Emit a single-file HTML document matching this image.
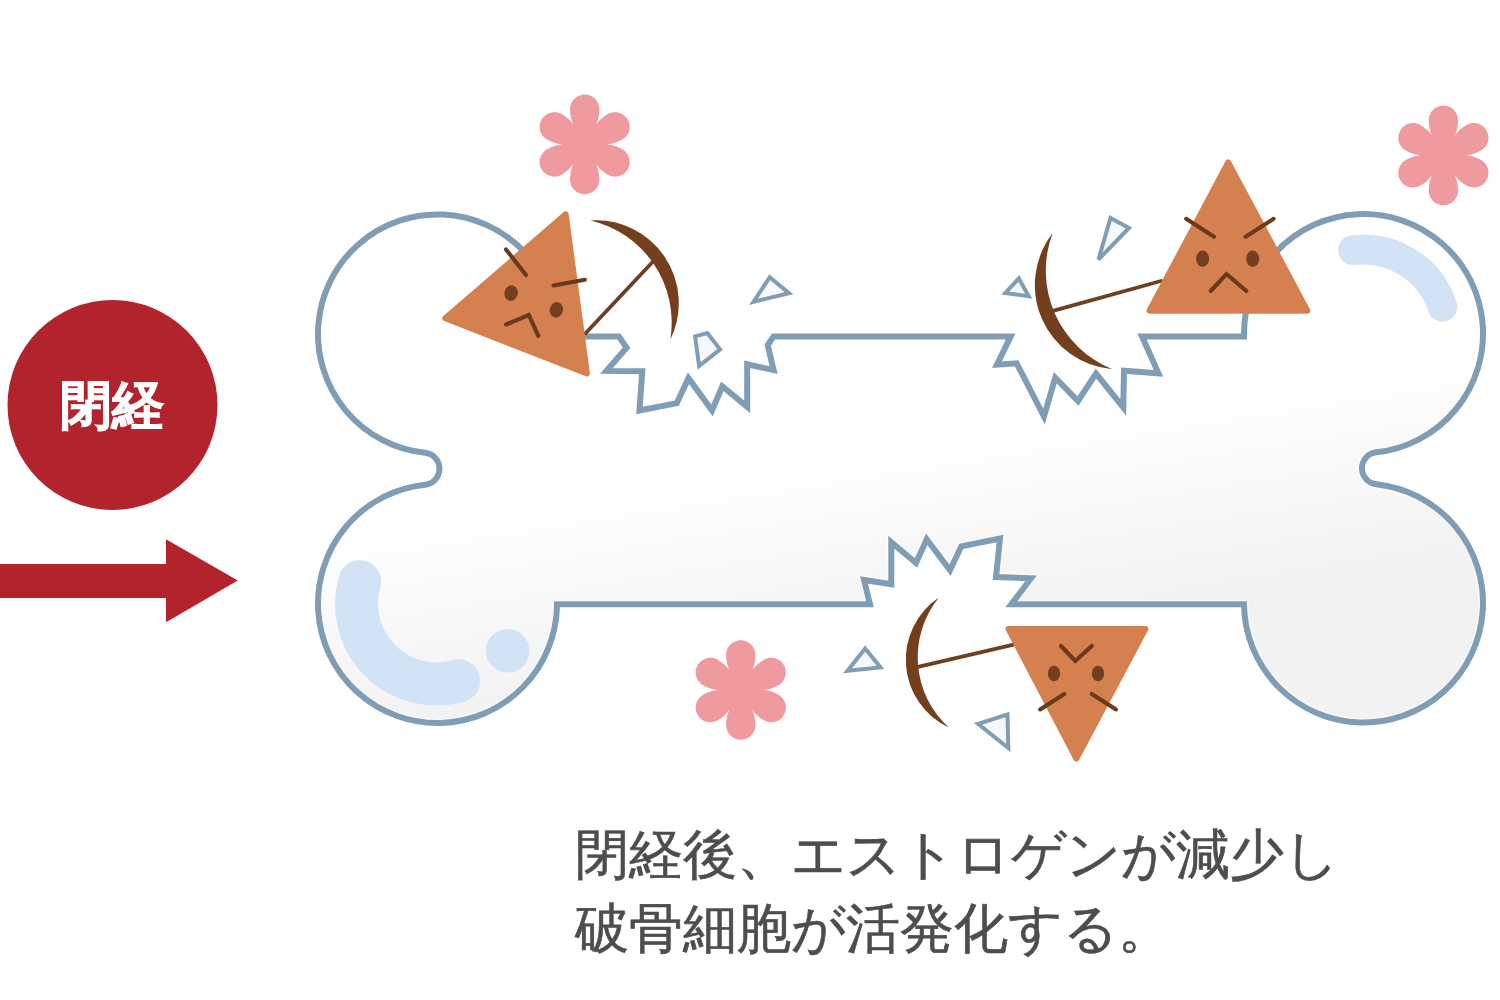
<!DOCTYPE html>
<html lang="ja"><head><meta charset="utf-8">
<style>
html,body{margin:0;padding:0;background:#fff;width:1500px;height:1000px;overflow:hidden;font-family:"Liberation Sans",sans-serif;}
svg{position:absolute;left:0;top:0;}
.t{position:absolute;left:575px;top:817px;font-size:53.6px;color:#4d4d4d;line-height:74px;white-space:nowrap;-webkit-text-stroke:0.6px #4d4d4d;}
.c{position:absolute;left:-1px;top:379px;width:225px;text-align:center;font-size:52px;color:#fff;font-weight:bold;line-height:52px;-webkit-text-stroke:1px #fff;}
</style></head><body>
<svg width="1500" height="1000" viewBox="0 0 1500 1000">
<defs>
<linearGradient id="bg" gradientUnits="userSpaceOnUse" x1="600" y1="488" x2="632" y2="690">
<stop offset="0" stop-color="#ffffff"/><stop offset="1" stop-color="#f2f2f2"/>
</linearGradient>
</defs>
<circle cx="112.5" cy="405" r="105" fill="#b3232c"/>
<rect x="0" y="564" width="167" height="34" fill="#b3232c"/>
<polygon points="166,539.2 237.8,580.6 166,622.3" fill="#b3232c"/>
<path d="M556.96 336.40 L618.90 336.40 L626.60 347.80 L606.50 370.90 L642.30 371.30 L639.40 410.50 L676.80 403.10 L688.50 378.20 L712.00 410.50 L722.30 386.30 L747.20 406.80 L747.20 364.30 L773.60 370.10 L767.70 345.20 L773.60 336.40 L1010.70 336.40 L997.00 364.70 L1016.70 363.30 L1044.00 416.50 L1055.30 377.70 L1078.00 401.00 L1096.00 373.70 L1123.30 407.50 L1124.00 370.70 L1158.50 373.30 L1142.00 336.40 L1244.05 336.40 A119.5 119.5 0 1 1 1376.29 452.34 A16 16 0 0 0 1376.29 484.16 A119.5 119.5 0 1 1 1244.00 604.30 L1011.30 604.30 L1031.00 578.30 L996.00 577.00 L1000.00 538.50 L961.30 546.30 L950.00 570.30 L926.70 539.30 L916.00 563.00 L891.30 542.30 L891.30 584.30 L864.00 580.00 L870.00 604.30 L557.00 604.30 A119.5 119.5 0 1 1 425.15 484.66 A16 16 0 0 0 425.15 452.84 A119.5 119.5 0 1 1 556.96 336.40 Z" fill="url(#bg)" stroke="#ffffff" stroke-width="9" stroke-opacity="0.6"/>
<path d="M556.96 336.40 L618.90 336.40 L626.60 347.80 L606.50 370.90 L642.30 371.30 L639.40 410.50 L676.80 403.10 L688.50 378.20 L712.00 410.50 L722.30 386.30 L747.20 406.80 L747.20 364.30 L773.60 370.10 L767.70 345.20 L773.60 336.40 L1010.70 336.40 L997.00 364.70 L1016.70 363.30 L1044.00 416.50 L1055.30 377.70 L1078.00 401.00 L1096.00 373.70 L1123.30 407.50 L1124.00 370.70 L1158.50 373.30 L1142.00 336.40 L1244.05 336.40 A119.5 119.5 0 1 1 1376.29 452.34 A16 16 0 0 0 1376.29 484.16 A119.5 119.5 0 1 1 1244.00 604.30 L1011.30 604.30 L1031.00 578.30 L996.00 577.00 L1000.00 538.50 L961.30 546.30 L950.00 570.30 L926.70 539.30 L916.00 563.00 L891.30 542.30 L891.30 584.30 L864.00 580.00 L870.00 604.30 L557.00 604.30 A119.5 119.5 0 1 1 425.15 484.66 A16 16 0 0 0 425.15 452.84 A119.5 119.5 0 1 1 556.96 336.40 Z" fill="none" stroke="#7f9db5" stroke-width="6" stroke-linejoin="miter" stroke-miterlimit="10"/>
<g fill="none" stroke="#d2e3f5" stroke-linecap="round">
<path d="M1353.1 250.2 A83 83 0 0 1 1442.4 306.7" stroke-width="30"/>
<path d="M359.7 581.7 A80 80 0 0 0 458.8 680.8" stroke-width="43"/>
</g>
<circle cx="507.6" cy="650.8" r="21.8" fill="#d2e3f5"/>
<g fill="#f7f8fa" stroke="#7f9db5" stroke-width="4" stroke-linejoin="miter">
<polygon points="695.1,336.4 707.3,333 720.1,349.3 699.1,366"/>
<polygon points="769.8,277.2 789,293.2 753.5,301.8"/>
<polygon points="1110.5,218 1129,228 1098.5,259.5"/>
<polygon points="1018.8,278.3 1005.3,293 1028.7,296.3"/>
<polygon points="865.2,648.5 880.5,667.5 847.5,670.8"/>
<polygon points="978,723.8 1007.5,714.5 1008.3,748"/>
</g>
<g fill="#ef9a9e">
<path d="M573.2 124.5 C571.2 120.4 570.0 114.4 570.0 109.3 C570.0 101.2 576.6 94.6 584.7 94.6 C592.8 94.6 599.4 101.2 599.4 109.3 C599.4 114.4 598.2 120.4 596.2 124.5 M596.2 124.5 C598.7 120.7 603.3 116.7 607.7 114.1 C614.8 110.1 623.8 112.5 627.8 119.5 C631.9 126.5 629.5 135.5 622.4 139.6 C618.0 142.1 612.2 144.1 607.7 144.4 M607.7 144.4 C612.2 144.7 618.0 146.7 622.4 149.2 C629.5 153.3 631.9 162.3 627.8 169.3 C623.8 176.3 614.8 178.7 607.7 174.7 C603.3 172.1 598.7 168.1 596.2 164.3 M596.2 164.3 C598.2 168.4 599.4 174.4 599.4 179.5 C599.4 187.6 592.8 194.2 584.7 194.2 C576.6 194.2 570.0 187.6 570.0 179.5 C570.0 174.4 571.2 168.4 573.2 164.3 M573.2 164.3 C570.7 168.1 566.1 172.1 561.7 174.7 C554.6 178.7 545.6 176.3 541.6 169.3 C537.5 162.3 539.9 153.3 547.0 149.2 C551.4 146.7 557.2 144.7 561.7 144.4 M561.7 144.4 C557.2 144.1 551.4 142.1 547.0 139.6 C539.9 135.5 537.5 126.5 541.6 119.5 C545.6 112.5 554.6 110.1 561.7 114.1 C566.1 116.7 570.7 120.7 573.2 124.5 M596.5 124.0 L608.2 144.4 L596.5 164.8 L573.0 164.8 L561.2 144.4 L573.0 124.0Z"/>
<path d="M1431.9 135.4 C1429.9 131.3 1428.7 125.3 1428.7 120.2 C1428.7 112.1 1435.3 105.5 1443.4 105.5 C1451.5 105.5 1458.1 112.1 1458.1 120.2 C1458.1 125.3 1456.9 131.3 1454.9 135.4 M1454.9 135.4 C1457.4 131.6 1462.0 127.6 1466.4 125.0 C1473.5 121.0 1482.5 123.4 1486.5 130.4 C1490.6 137.4 1488.2 146.4 1481.1 150.5 C1476.7 153.0 1470.9 155.0 1466.4 155.3 M1466.4 155.3 C1470.9 155.6 1476.7 157.6 1481.1 160.1 C1488.2 164.2 1490.6 173.2 1486.5 180.2 C1482.5 187.2 1473.5 189.6 1466.4 185.6 C1462.0 183.0 1457.4 179.0 1454.9 175.2 M1454.9 175.2 C1456.9 179.3 1458.1 185.3 1458.1 190.4 C1458.1 198.5 1451.5 205.1 1443.4 205.1 C1435.3 205.1 1428.7 198.5 1428.7 190.4 C1428.7 185.3 1429.9 179.3 1431.9 175.2 M1431.9 175.2 C1429.4 179.0 1424.8 183.0 1420.4 185.6 C1413.3 189.6 1404.3 187.2 1400.3 180.2 C1396.2 173.2 1398.6 164.2 1405.7 160.1 C1410.1 157.6 1415.9 155.6 1420.4 155.3 M1420.4 155.3 C1415.9 155.0 1410.1 153.0 1405.7 150.5 C1398.6 146.4 1396.2 137.4 1400.3 130.4 C1404.3 123.4 1413.3 121.0 1420.4 125.0 C1424.8 127.6 1429.4 131.6 1431.9 135.4 M1455.2 134.9 L1466.9 155.3 L1455.2 175.7 L1431.7 175.7 L1419.9 155.3 L1431.7 134.9Z"/>
<path d="M729.3 670.1 C727.3 666.0 726.1 660.0 726.1 654.9 C726.1 646.8 732.7 640.2 740.8 640.2 C748.9 640.2 755.5 646.8 755.5 654.9 C755.5 660.0 754.3 666.0 752.3 670.1 M752.3 670.1 C754.8 666.3 759.4 662.3 763.8 659.7 C770.9 655.7 779.9 658.1 783.9 665.1 C788.0 672.1 785.6 681.1 778.5 685.2 C774.1 687.7 768.3 689.7 763.8 690.0 M763.8 690.0 C768.3 690.3 774.1 692.3 778.5 694.8 C785.6 698.9 788.0 707.9 783.9 714.9 C779.9 721.9 770.9 724.3 763.8 720.3 C759.4 717.7 754.8 713.7 752.3 709.9 M752.3 709.9 C754.3 714.0 755.5 720.0 755.5 725.1 C755.5 733.2 748.9 739.8 740.8 739.8 C732.7 739.8 726.1 733.2 726.1 725.1 C726.1 720.0 727.3 714.0 729.3 709.9 M729.3 709.9 C726.8 713.7 722.2 717.7 717.8 720.3 C710.7 724.3 701.7 721.9 697.7 714.9 C693.6 707.9 696.0 698.9 703.1 694.8 C707.5 692.3 713.3 690.3 717.8 690.0 M717.8 690.0 C713.3 689.7 707.5 687.7 703.1 685.2 C696.0 681.1 693.6 672.1 697.7 665.1 C701.7 658.1 710.7 655.7 717.8 659.7 C722.2 662.3 726.8 666.3 729.3 670.1 M752.5 669.6 L764.3 690.0 L752.5 710.4 L729.0 710.4 L717.3 690.0 L729.0 669.6Z"/>
</g>
<g fill="#733f1c">
<path d="M590.5 220.5 A82.7 82.7 0 0 1 670.3 339.5 A104.7 104.7 0 0 0 590.5 220.5Z"/>
<path d="M1052.6 233.3 A84.4 84.4 0 0 0 1112.4 369.2 A106.2 106.2 0 0 1 1052.6 233.3Z"/>
<path d="M938.9 597.6 A74.8 74.8 0 0 0 948.8 727.4 A94.6 94.6 0 0 1 938.9 597.6Z"/>
</g>
<g stroke="#6c4021" stroke-width="3.8" stroke-linecap="round">
<line x1="652.8" y1="261.8" x2="585.6" y2="333.2"/>
<line x1="1053.9" y1="310.7" x2="1161" y2="281"/>
<line x1="918" y1="666.9" x2="1012.6" y2="644.9"/>
</g>
<g fill="#d4804f" stroke="#d4804f" stroke-width="6" stroke-linejoin="round">
<polygon points="565.7,214.2 445.3,318.3 586.9,373.4"/>
<polygon points="1228.2,162.3 1149.5,310.7 1307.3,310.7"/>
<polygon points="1008.5,628.9 1145.4,628.9 1076.4,758.5"/>
</g>
<g fill="none" stroke="#6b391c" stroke-width="4.1" stroke-linecap="round" stroke-linejoin="miter">
<line x1="506" y1="249.4" x2="526" y2="275"/>
<line x1="553.5" y1="285.5" x2="584.9" y2="279.8"/>
<polyline points="506,324.5 528.8,315 538.3,335.9"/>
<line x1="1186.1" y1="218.8" x2="1214.1" y2="236.7"/>
<line x1="1245.6" y1="236.7" x2="1273.6" y2="218.8"/>
<polyline points="1210.7,291 1226.5,274 1246.4,291"/>
<polyline points="1061,646 1075.3,661 1091.8,646"/>
<line x1="1040.1" y1="709.4" x2="1064.3" y2="694"/>
<line x1="1091.8" y1="694" x2="1116" y2="709.4"/>
</g>
<g fill="#72401e">
<ellipse cx="511.1" cy="293.1" rx="6.6" ry="7.8" transform="rotate(15 511.1 293.1)"/>
<ellipse cx="556.4" cy="309.8" rx="6.6" ry="7.8" transform="rotate(15 556.4 309.8)"/>
<ellipse cx="1202.6" cy="258.8" rx="6.5" ry="8.2"/>
<ellipse cx="1252.7" cy="258.8" rx="6.5" ry="8.2"/>
<ellipse cx="1054" cy="673.5" rx="6.2" ry="7.7"/>
<ellipse cx="1098" cy="673.5" rx="6.2" ry="7.7"/>
</g>
</svg>
<div class="c">閉経</div>
<div class="t">閉経後、エストロゲンが減少し<br>破骨細胞が活発化する。</div>
</body></html>
